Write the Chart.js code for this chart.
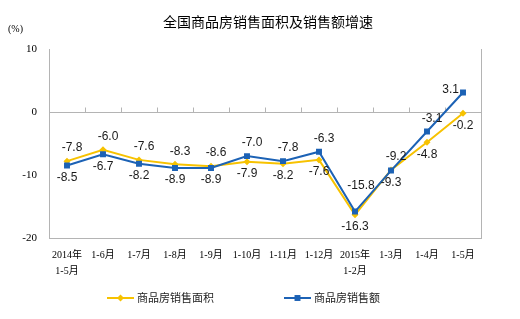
<!DOCTYPE html>
<html>
<head>
<meta charset="utf-8">
<script src="https://cdn.jsdelivr.net/npm/chart.js@4.4.1/dist/chart.umd.min.js"></script>
<style>
  html, body { margin: 0; padding: 0; background: #fff; }
</style>
</head>
<body>
<canvas id="myChart" width="520" height="319"></canvas>
<script>
const categories = [["2014年", "1-5月"], "1-6月", "1-7月", "1-8月", "1-9月", "1-10月", "1-11月", "1-12月", ["2015年", "1-2月"], "1-3月", "1-4月", "1-5月"];
const areaGrowth = [-7.8, -6.0, -7.6, -8.3, -8.6, -7.9, -8.2, -7.6, -16.3, -9.2, -4.8, -0.2];
const salesGrowth = [-8.5, -6.7, -8.2, -8.9, -8.9, -7.0, -7.8, -6.3, -15.8, -9.3, -3.1, 3.1];
const seriesNames = ["商品房销售面积", "商品房销售额"];
const chartTitle = "全国商品房销售面积及销售额增速";
const yUnit = "(%)";

const YELLOW = "#F7C200";
const BLUE = "#1C62B5";
const AXIS_GRAY = "#b4b4b4";

// value labels: the higher of the two goes above, the lower below
const valueLabels = {
  id: "valueLabels",
  afterDatasetsDraw(chart) {
    const ctx = chart.ctx;
    const metaArea = chart.getDatasetMeta(0);
    const metaSales = chart.getDatasetMeta(1);
    const last = areaGrowth.length - 1;
    // lowest point of the series, its upper label is lifted clear of the lines
    const lowIdx = areaGrowth.indexOf(Math.min(...areaGrowth));
    ctx.save();
    ctx.font = '12px "Liberation Sans", Arial, sans-serif';
    ctx.fillStyle = "#1a1a1a";
    ctx.textBaseline = "middle";
    const put = (v, pt, above, i) => {
      const txt = v.toFixed(1);
      ctx.textAlign = "center";
      if (above && i === last) {
        ctx.textAlign = "right";
        ctx.fillText(txt, pt.x - 4, pt.y - 3);
      } else if (above && i === lowIdx) {
        ctx.fillText(txt, pt.x + 6, pt.y - 26);
      } else if (above) {
        ctx.fillText(txt, pt.x + 5, pt.y - 13);
      } else {
        ctx.fillText(txt, pt.x, pt.y + 12);
      }
    };
    areaGrowth.forEach((v, i) => {
      const w = salesGrowth[i];
      const areaHigher = v >= w;
      put(v, metaArea.data[i], areaHigher, i);
      put(w, metaSales.data[i], !areaHigher, i);
    });
    ctx.restore();
  }
};

// title, unit, frame, zero-line ticks and legend
const decorations = {
  id: "decorations",
  beforeDatasetsDraw(chart) {
    const { ctx, chartArea, scales } = chart;
    ctx.save();
    ctx.strokeStyle = AXIS_GRAY;
    ctx.lineWidth = 1;
    // right border
    ctx.beginPath();
    ctx.moveTo(chartArea.right + 0.5, chartArea.top);
    ctx.lineTo(chartArea.right + 0.5, chartArea.bottom);
    ctx.stroke();
    // small ticks on the zero line between categories
    const y0 = Math.round(scales.y.getPixelForValue(0)) + 0.5;
    const step = scales.x.getPixelForValue(1) - scales.x.getPixelForValue(0);
    ctx.beginPath();
    for (let i = 1; i < categories.length; i++) {
      const x = Math.round(scales.x.getPixelForValue(i) - step / 2) + 0.5;
      ctx.moveTo(x, y0);
      ctx.lineTo(x, y0 - 5);
    }
    ctx.stroke();
    ctx.restore();
  },
  afterDraw(chart) {
    const ctx = chart.ctx;
    const w = chart.width;
    ctx.save();
    ctx.fillStyle = "#000";
    ctx.textBaseline = "middle";
    ctx.textAlign = "center";
    ctx.font = '14px "Noto Sans CJK SC", sans-serif';
    ctx.fillText(chartTitle, w / 2 + 8, 22);
    ctx.textAlign = "left";
    ctx.font = '10px "Liberation Serif", "Noto Sans CJK SC", serif';
    ctx.fillText(yUnit, 8, 29);

    // legend
    const ly = 298;
    const items = [
      { x: 107, color: YELLOW, style: "rectRot", r: 3.5, text: seriesNames[0] },
      { x: 284, color: BLUE, style: "rect", r: 4.2, text: seriesNames[1] }
    ];
    ctx.font = '11px "Noto Sans CJK SC", sans-serif';
    items.forEach(it => {
      ctx.strokeStyle = it.color;
      ctx.lineWidth = 2;
      ctx.beginPath();
      ctx.moveTo(it.x, ly);
      ctx.lineTo(it.x + 27, ly);
      ctx.stroke();
      ctx.fillStyle = it.color;
      Chart.helpers.drawPoint(ctx, { pointStyle: it.style, radius: it.r, borderWidth: 0 }, it.x + 13.5, ly);
      ctx.fillStyle = "#222";
      ctx.fillText(it.text, it.x + 30, ly);
    });
    ctx.restore();
  }
};

const ctx = document.getElementById("myChart").getContext("2d");

new Chart(ctx, {
  type: "line",
  data: {
    labels: categories,
    datasets: [
      {
        label: seriesNames[0],
        data: areaGrowth,
        borderColor: YELLOW,
        backgroundColor: YELLOW,
        borderWidth: 2,
        pointStyle: "rectRot",
        pointRadius: 3.5,
        pointBorderWidth: 0,
        tension: 0,
        order: 1
      },
      {
        label: seriesNames[1],
        data: salesGrowth,
        borderColor: BLUE,
        backgroundColor: BLUE,
        borderWidth: 2,
        pointStyle: "rect",
        pointRadius: 4.2,
        pointBorderWidth: 0,
        tension: 0,
        order: 0
      }
    ]
  },
  options: {
    responsive: false,
    animation: false,
    layout: { padding: { top: 49, right: 39, left: 0, bottom: 0 } },
    plugins: {
      legend: { display: false },
      title: { display: false },
      tooltip: { enabled: false }
    },
    scales: {
      x: {
        offset: true,
        grid: { display: false, drawTicks: false },
        border: { display: true, color: AXIS_GRAY },
        ticks: {
          color: "#000",
          padding: 9,
          maxRotation: 0,
          autoSkip: false,
          font: { family: '"Liberation Serif", "Noto Sans CJK SC", serif', size: 10, lineHeight: 1.6 }
        },
        afterFit(scale) { scale.height = 81; }
      },
      y: {
        min: -20,
        max: 10,
        grid: {
          drawTicks: false,
          color: (c) => (c.tick && c.tick.value === 0 ? AXIS_GRAY : "rgba(0,0,0,0)")
        },
        border: { display: true, color: AXIS_GRAY },
        ticks: {
          stepSize: 10,
          color: "#000",
          padding: 12,
          font: { family: '"Liberation Serif", serif', size: 11 }
        },
        afterFit(scale) { scale.width = 49; }
      }
    }
  },
  plugins: [decorations, valueLabels]
});
</script>
</body>
</html>
